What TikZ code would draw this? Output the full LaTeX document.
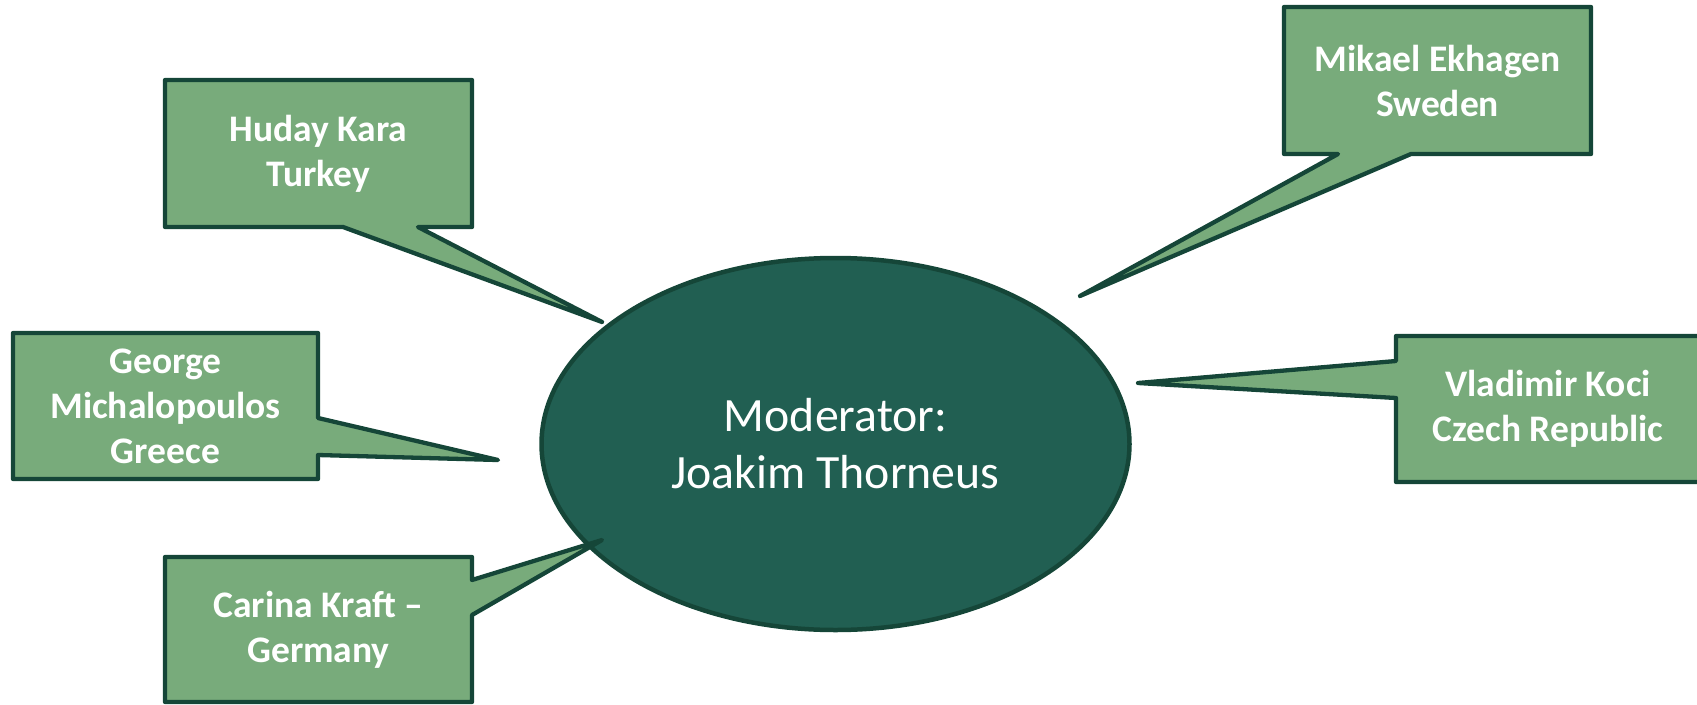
\documentclass[tikz,border=0pt]{standalone}
\usepackage{fontspec}
\setmainfont{Carlito}
\usetikzlibrary{shapes.geometric}

\definecolor{boxgreen}{RGB}{120,171,123}
\definecolor{edgegreen}{RGB}{21,70,56}
\definecolor{modgreen}{RGB}{33,95,82}

\begin{document}
\begin{tikzpicture}[x=1pt, y=-1pt,
    callout/.style={draw=edgegreen, fill=boxgreen, line width=4.3pt, line join=round},
    boxtext/.style={text=white, align=center, inner sep=0pt,
        font=\bfseries\fontsize{37.5}{45}\selectfont},
    modnode/.style={ellipse, draw=edgegreen, fill=modgreen, line width=4.5pt,
        minimum width=588pt, minimum height=372pt, inner sep=0pt,
        text=white, align=center, font=\fontsize{47.8}{57}\selectfont}]
    % Page frame, 1697 x 704, y grows downwards
    \useasboundingbox (0,0) rectangle (1697,704);

    % Moderator in the middle
    \node[modnode] (mod) at (835.5,444) {Moderator:\\Joakim Thorneus};

    % Tips of the callout tails
    \coordinate (hudaytip) at (602,322);
    \coordinate (georgetip) at (498,460);
    \coordinate (carinatip) at (602,540);
    \coordinate (mikaeltip) at (1080,296);
    \coordinate (vladtip) at (1138,383);

    % Huday Kara: tail from the bottom side
    \draw[callout] (165,80) -- ++(307,0) -- ++(0,147)
        -- (418,227) -- (hudaytip) -- (343,227) % tail
        -- (165,227) -- cycle;
    % George Michalopoulos: tail from the right side
    \draw[callout] (13,333) -- ++(305,0)
        -- (318,418) -- (georgetip) -- (318,455) % tail
        -- (318,479) -- (13,479) -- cycle;
    % Carina Kraft: tail from the right side, pointing up
    \draw[callout] (165,557) -- ++(307,0)
        -- (472,580) -- (carinatip) -- (472,615) % tail
        -- (472,702) -- (165,702) -- cycle;
    % Mikael Ekhagen: tail from the bottom side
    \draw[callout] (1284,7) -- ++(307,0) -- ++(0,147)
        -- (1411,154) -- (mikaeltip) -- (1338,154) % tail
        -- (1284,154) -- cycle;
    % Vladimir Koci: tail from the left side, box runs off the page
    \draw[callout] (1396,336) -- (1702,336) -- (1702,482) -- (1396,482)
        -- (1396,398) -- (vladtip) -- (1396,361) % tail
        -- cycle;

    % Names
    \node[boxtext] (huday) at (318.5,153.5) {Huday Kara\\Turkey};
    \node[boxtext] (george) at (165.5,406) {George\\Michalopoulos\\Greece};
    \node[boxtext] (carina) at (318.5,630) {Carina Kraft --\\Germany};
    \node[boxtext] (mikael) at (1437.5,80.5) {Mikael Ekhagen\\Sweden};
    \node[boxtext] (vlad) at (1548,409) {Vladimir Koci\\Czech Republic};
\end{tikzpicture}
\end{document}
